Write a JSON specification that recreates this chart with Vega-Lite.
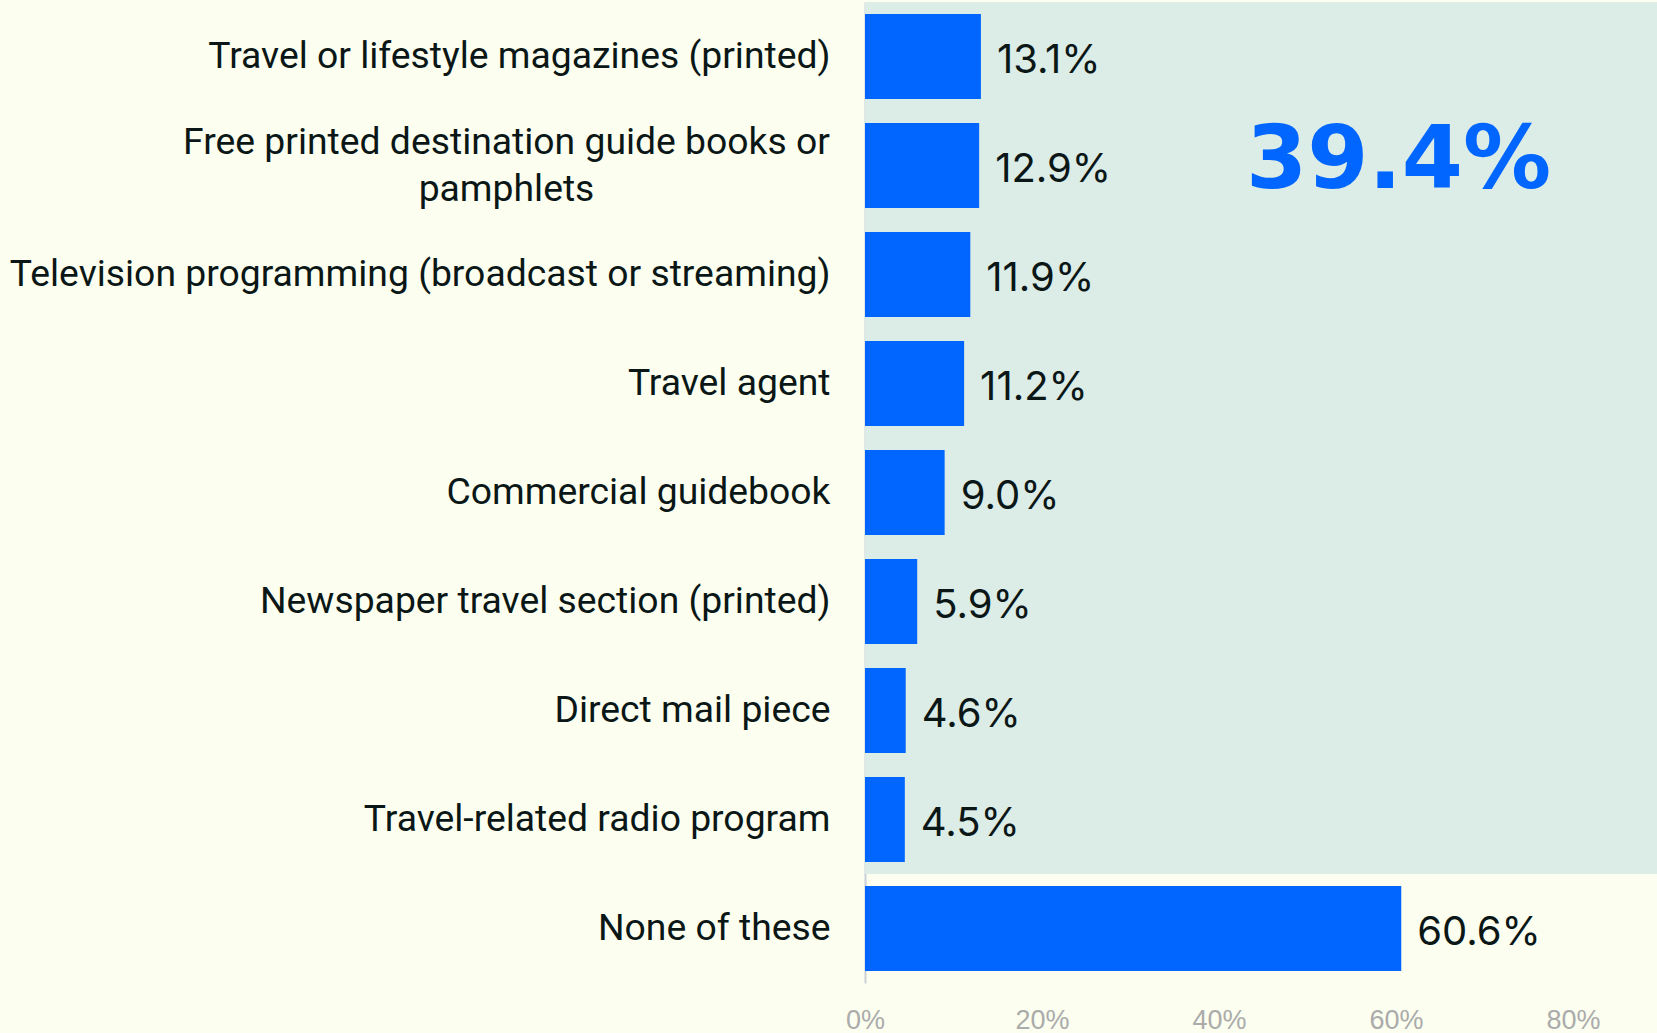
{
  "$schema": "https://vega.github.io/schema/vega-lite/v6.json",
  "width": 792,
  "height": 981,
  "autosize": {"type": "none"},
  "padding": {"left": 865, "top": 2, "right": 0, "bottom": 50},
  "background": "#FCFFEF",
  "config": {
    "view": {"stroke": null},
    "axis": {"grid": false},
    "axisX": {"domain": false, "ticks": false, "labelColor": "#ABABAB", "labelFont": "Liberation Sans", "labelFontSize": 27, "labelPadding": 24, "labelFlush": false}
  },
  "datasets": {
    "sources": [
      {"source": "Travel or lifestyle magazines (printed)", "share": 0.131},
      {"source": "Free printed destination guide books or pamphlets", "share": 0.129},
      {"source": "Television programming (broadcast or streaming)", "share": 0.119},
      {"source": "Travel agent", "share": 0.112},
      {"source": "Commercial guidebook", "share": 0.090},
      {"source": "Newspaper travel section (printed)", "share": 0.059},
      {"source": "Direct mail piece", "share": 0.046},
      {"source": "Travel-related radio program", "share": 0.045},
      {"source": "None of these", "share": 0.606}
    ],
    "summary": [
      {"source": "Free printed destination guide books or pamphlets", "share": 0.394}
    ]
  },
  "data": {"name": "sources"},
  "encoding": {
    "y": {
      "field": "source",
      "type": "nominal",
      "sort": null,
      "scale": {"paddingInner": 0.22, "paddingOuter": 0.11},
      "axis": {
        "title": null,
        "ticks": false,
        "domain": true,
        "domainColor": "#C9D0D9",
        "domainWidth": 2,
        "labelFont": "Roboto",
        "labelFontSize": 37.3,
        "labelColor": "#0B1717",
        "labelLimit": 0,
        "labelLineHeight": 47,
        "labelPadding": {"condition": {"test": "datum.value == 'Free printed destination guide books or pamphlets'", "value": 359}, "value": 35},
        "labelAlign": {"condition": {"test": "datum.value == 'Free printed destination guide books or pamphlets'", "value": "center"}, "value": "right"},
        "labelOffset": {"condition": {"test": "datum.value == 'Free printed destination guide books or pamphlets'", "value": -23}, "value": 0},
        "labelExpr": "datum.label == 'Free printed destination guide books or pamphlets' ? ['Free printed destination guide books or', 'pamphlets'] : datum.label"
      }
    }
  },
  "layer": [
    {
      "transform": [{"filter": "datum.source != 'None of these'"}],
      "mark": {"type": "bar", "height": 109, "color": "#DCECE6"},
      "encoding": {
        "x": {"datum": 0, "type": "quantitative", "axis": {"title": null}},
        "x2": {"datum": 0.895}
      }
    },
    {
      "mark": {"type": "bar", "color": "#0066FF"},
      "encoding": {
        "x": {
          "field": "share",
          "type": "quantitative",
          "scale": {"domain": [0, 0.895], "nice": false, "zero": true},
          "axis": {"title": null, "values": [0, 0.2, 0.4, 0.6, 0.8], "format": ".0%"}
        }
      }
    },
    {
      "mark": {"type": "text", "align": "left", "baseline": "alphabetic", "dx": 16, "dy": 16, "font": "Inter", "fontSize": 40, "color": "#0B1717"},
      "encoding": {
        "x": {"field": "share", "type": "quantitative", "axis": {"title": null}},
        "text": {"field": "share", "type": "quantitative", "format": ".1%"}
      }
    },
    {
      "data": {"name": "summary"},
      "mark": {"type": "text", "align": "center", "baseline": "alphabetic", "dy": 22, "font": "DejaVu Sans", "fontWeight": "bold", "fontSize": 88, "color": "#0066FF"},
      "encoding": {
        "x": {"datum": 0.603, "type": "quantitative", "axis": {"title": null}},
        "text": {"field": "share", "type": "quantitative", "format": ".1%"}
      }
    }
  ]
}
